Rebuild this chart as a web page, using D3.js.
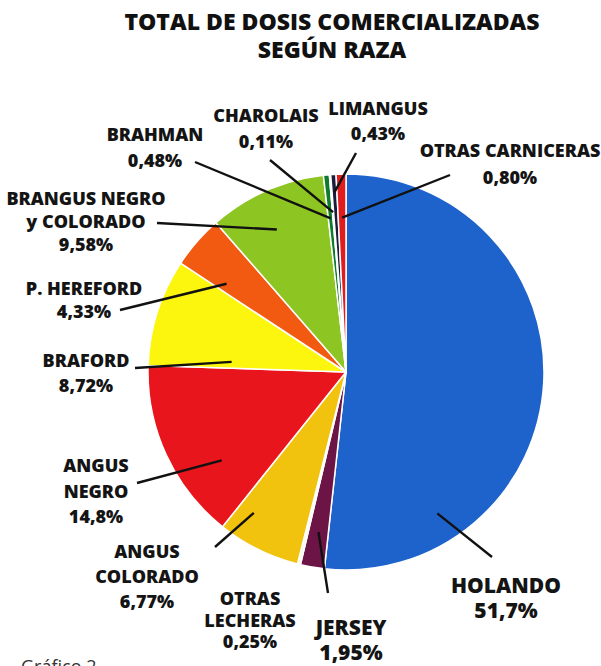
<!DOCTYPE html>
<html>
<head>
<meta charset="utf-8">
<script src="https://cdn.jsdelivr.net/npm/d3@7"></script>
<style>
  body { margin: 0; background: #fff; }
  svg { display: block; }
</style>
</head>
<body>
<div class="chart"></div>
<script>
// data
var breeds = ["HOLANDO", "JERSEY", "OTRAS LECHERAS", "ANGUS COLORADO", "ANGUS NEGRO",
              "BRAFORD", "P. HEREFORD", "BRANGUS NEGRO y COLORADO", "BRAHMAN",
              "CHAROLAIS", "LIMANGUS", "OTRAS CARNICERAS"];
var shares = [51.7, 1.95, 0.25, 6.77, 14.8, 8.72, 4.33, 9.58, 0.48, 0.11, 0.43, 0.80];
var shareLabels = ["51,7%", "1,95%", "0,25%", "6,77%", "14,8%", "8,72%", "4,33%",
                   "9,58%", "0,48%", "0,11%", "0,43%", "0,80%"];
var nameLines = [["HOLANDO"], ["JERSEY"], ["OTRAS", "LECHERAS"], ["ANGUS", "COLORADO"],
                 ["ANGUS", "NEGRO"], ["BRAFORD"], ["P. HEREFORD"], ["BRANGUS NEGRO", "y COLORADO"],
                 ["BRAHMAN"], ["CHAROLAIS"], ["LIMANGUS"], ["OTRAS CARNICERAS"]];
var colors = ["#1e63cb", "#6c1446", "#fbf8e4", "#f1c20e", "#e8161c", "#fcf60e",
              "#f25a12", "#8dc622", "#0d7a2c", "#f6f01a", "#1b1b3c", "#e01c1e"];

var W = 601, H = 666;
var cx = 346, cy = 372, radius = 198;

/**
 * Label layout: text position, line height, font size,
 * leader start (lx, ly), and where it lands inside the slice (f = angle share, rr = radius share)
 */
var layout = [
  { x: 506, y: 593, lh: 25, size: 21, lx: 492, ly: 557, f: 0.79, rr: 0.85 },
  { x: 351, y: 635, lh: 25, size: 21, lx: 328, ly: 593, f: 0.5, rr: 0.82 },
  { x: 250, y: 605, lh: 21.5, size: 18, lx: null },
  { x: 147, y: 558, lh: 25, size: 18, lx: 215, ly: 547, f: 0.78, rr: 0.85 },
  { x: 96, y: 472, lh: 25.5, size: 18, lx: 137, ly: 483, f: 0.3, rr: 0.77 },
  { x: 86, y: 367, lh: 25, size: 18, lx: 135, ly: 368, f: 0.1, rr: 0.58 },
  { x: 84, y: 295, lh: 23, size: 18, lx: 120, ly: 310, f: 0.2, rr: 0.75 },
  { x: 86, y: 205, lh: 23, size: 18, lx: 157, ly: 223, f: 0.44, rr: 0.8 },
  { x: 155, y: 141, lh: 26, size: 18, lx: 195, ly: 162, f: 0.5, rr: 0.78 },
  { x: 266, y: 122, lh: 26, size: 18, lx: 270, ly: 160, f: 0.5, rr: 0.81 },
  { x: 378, y: 115, lh: 25, size: 18, lx: 356, ly: 153, f: 0.5, rr: 0.91 },
  { x: 510, y: 157, lh: 27, size: 18, lx: 450, ly: 175, f: 0.5, rr: 0.78 }
];

var svg = d3.select(".chart")
            .append("svg")
            .attr("width", W)
            .attr("height", H);

svg.append("rect")
   .attr("width", W)
   .attr("height", H)
   .attr("fill", "#fff");

/**
 * Title
 */
var title = svg.append("text")
               .attr("text-anchor", "middle")
               .attr("font-family", "'Open Sans', sans-serif")
               .attr("font-weight", 800)
               .attr("font-size", 23)
               .attr("fill", "#111");
title.append("tspan").attr("x", 332).attr("y", 30).text("TOTAL DE DOSIS COMERCIALIZADAS");
title.append("tspan").attr("x", 332).attr("y", 58).text("SEGÚN RAZA");

/**
 * Pie
 */
var pie = d3.pie()
            .sort(null)
            .value(function(d) { return d; });

var arcs = pie(shares);

var arc = d3.arc()
            .innerRadius(0)
            .outerRadius(radius);

var g = svg.append("g")
           .attr("transform", "translate(" + cx + "," + cy + ")");

g.selectAll("path")
 .data(arcs)
 .enter()
 .append("path")
 .attr("d", arc)
 .attr("fill", function(d, i) { return colors[i]; })
 .attr("stroke", "#fff")
 .attr("stroke-width", 1.5)
 .attr("stroke-linejoin", "round");

/**
 * Leader lines
 */
arcs.forEach(function(d, i) {
  var L = layout[i];
  if (L.lx === null) return;
  var a = d.startAngle + (d.endAngle - d.startAngle) * L.f;
  var r = radius * L.rr;
  var px = cx + r * Math.sin(a);
  var py = cy - r * Math.cos(a);
  svg.append("line")
     .attr("x1", L.lx).attr("y1", L.ly)
     .attr("x2", px).attr("y2", py)
     .attr("stroke", "#111")
     .attr("stroke-width", 2.4);
});

/**
 * Labels
 */
breeds.forEach(function(name, i) {
  var L = layout[i];
  var t = svg.append("text")
             .attr("text-anchor", "middle")
             .attr("font-family", "'Open Sans', sans-serif")
             .attr("font-weight", 800)
             .attr("font-size", L.size)
             .attr("fill", "#141414");
  var lines = nameLines[i].concat([shareLabels[i]]);
  lines.forEach(function(s, k) {
    t.append("tspan")
     .attr("x", L.x)
     .attr("y", L.y + k * L.lh)
     .text(s);
  });
});

svg.append("text")
   .attr("x", 21)
   .attr("y", 673)
   .attr("font-family", "'Open Sans', sans-serif")
   .attr("font-size", 18)
   .attr("fill", "#333")
   .text("Gráfico 2");
</script>
</body>
</html>
